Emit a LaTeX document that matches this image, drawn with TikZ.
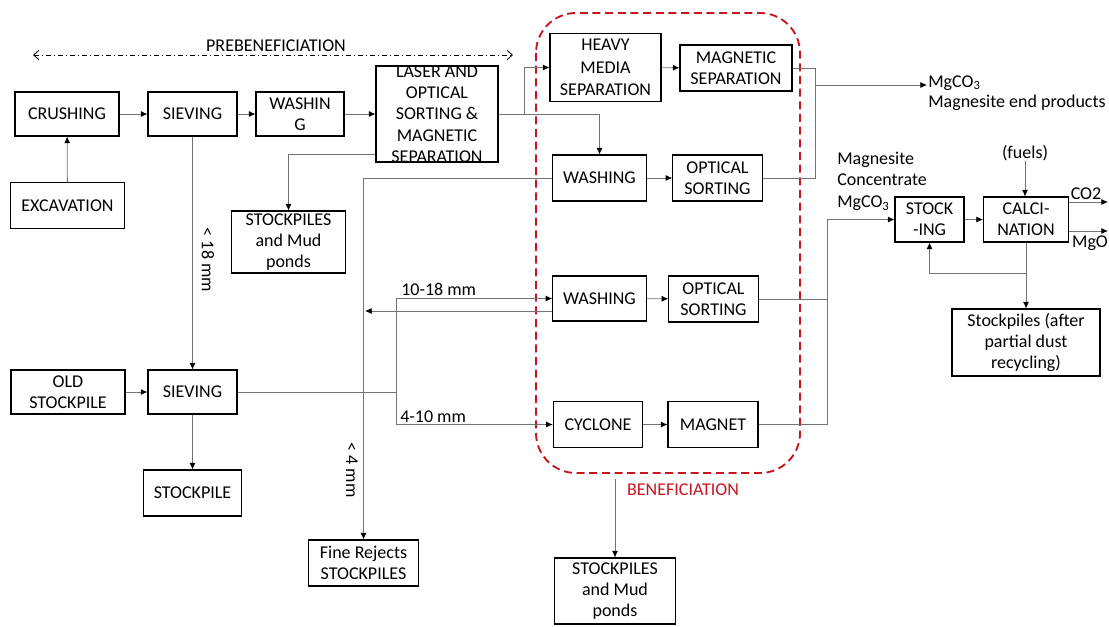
\documentclass[tikz,border=0pt]{standalone}
\usepackage{fontspec}
\setmainfont{Carlito}
\usetikzlibrary{arrows.meta}

\definecolor{linegray}{RGB}{115,115,115}
\definecolor{benred}{RGB}{200,20,30}

\tikzset{
    box/.style = {draw, line width=0.8pt, align=center, inner sep=1pt,
                  minimum width=67pt, minimum height=33pt},
    conn/.style = {draw=linegray, line width=0.6pt},
    arr/.style = {conn, -{Latex[length=5pt,width=4.5pt,color=black]}},
    prearr/.style = {draw=black, line width=0.6pt,
                     dash pattern=on 4pt off 2pt on 1pt off 2pt,
                     {Straight Barb[length=4pt,width=7pt]}-{Straight Barb[length=4pt,width=7pt]}},
    benzone/.style = {draw=benred, line width=1.4pt, dash pattern=on 6pt off 3.5pt,
                      rounded corners=30pt},
    lbl/.style = {inner sep=0pt}
}

\begin{document}
\begin{tikzpicture}[x=0.75pt, y=-0.75pt, font=\fontsize{13.5}{16}\selectfont]
    \useasboundingbox (0,0) rectangle (1109,626);

    % beneficiation zone
    \draw[benzone] (536,13) rectangle (800,473);
    \node[lbl, text=benred] (benlbl) at (683,490) {BENEFICIATION};

    % prebeneficiation
    \coordinate (preL) at (33,55);
    \coordinate (preR) at (513,55);
    \draw[prearr] (preL) -- (preR);
    \node[lbl] (prelbl) at (276,46) {PREBENEFICIATION};

    % prebeneficiation boxes
    \node[box, minimum width=78pt] (crush) at (67,114) {CRUSHING};
    \node[box, minimum width=66.75pt] (sieve) at (192.5,114) {SIEVING};
    \node[box, minimum width=66pt] (washA) at (300,114) {WASHIN\\G};
    \node[box, minimum width=86pt, minimum height=34pt] (exc) at (67.5,205.5) {EXCAVATION};
    \node[box, minimum width=85.5pt, minimum height=46.5pt] (stockmudA) at (288.5,242) {STOCKPILES\\and Mud\\ponds};
    \node[box, minimum width=91.5pt, minimum height=72pt] (laser) at (437,114) {};
    \node[lbl, align=center] at (laser) {LASER AND\\OPTICAL\\SORTING \&\\MAGNETIC\\SEPARATION};

    % beneficiation boxes
    \node[box, minimum width=83.25pt, minimum height=51pt, font=\fontsize{13.5}{17}\selectfont] (hms) at (605.5,67.5) {HEAVY\\MEDIA\\SEPARATION};
    \node[box, minimum width=84pt, minimum height=34.5pt] (magsep) at (736,68) {MAGNETIC\\SEPARATION};
    \node[box, minimum width=70pt, minimum height=34.5pt] (washB) at (599.5,178) {WASHING};
    \node[box, minimum height=34.5pt] (optA) at (717.5,178) {OPTICAL\\SORTING};
    \node[box, minimum width=70pt, minimum height=33.75pt] (washC) at (599.5,298.5) {WASHING};
    \node[box, minimum height=34.5pt] (optB) at (713.5,299) {OPTICAL\\SORTING};
    \node[box, minimum height=34pt] (cyclone) at (598,424.5) {CYCLONE};
    \node[box, minimum width=67.5pt, minimum height=34pt] (magnet) at (713,424.5) {MAGNET};

    % old stockpile line
    \node[box, minimum width=85.5pt] (oldstock) at (68,392) {OLD\\STOCKPILE};
    \node[box, minimum width=66.75pt] (sieveB) at (192.5,392) {SIEVING};
    \node[box, minimum width=74pt, minimum height=34.5pt] (stockpile) at (192.5,493) {STOCKPILE};
    \node[box, minimum width=83pt, minimum height=34.5pt] (finerej) at (363.5,563) {Fine Rejects\\STOCKPILES};
    \node[box, minimum width=91pt, minimum height=49.5pt] (stockmudB) at (615,591) {STOCKPILES\\and Mud\\ponds};

    % calcination
    \node[box, minimum width=51.75pt, minimum height=33.75pt] (stocking) at (929.5,219.5) {STOCK\\-ING};
    \node[box, minimum width=63.75pt, minimum height=33.75pt] (calci) at (1026,219.5) {CALCI-\\NATION};
    \node[box, minimum width=111pt, minimum height=50.25pt] (stockdust) at (1026,342.5) {Stockpiles (after\\partial dust\\recycling)};
    \node[lbl] (fuels) at (1025,153) {(fuels)};

    % text labels
    \node[lbl, anchor=base west] (mgco) at (928,87) {MgCO\textsubscript{3}};
    \node[lbl, anchor=base west] (endprod) at (928,107) {Magnesite end products};
    \node[lbl, anchor=north west, align=left] (conc) at (837,152) {Magnesite\\Concentrate\\MgCO\textsubscript{3}};
    \node[lbl, anchor=base] (co2) at (1086,199) {CO2};
    \node[lbl, anchor=base] (mgo) at (1090,247) {MgO};
    \node[lbl, anchor=base west] (sz1) at (401,295) {10-18 mm};
    \node[lbl, anchor=base west] (sz2) at (400,422) {4-10 mm};
    \node[lbl, rotate=-90] (sz18) at (208,260) {< 18 mm};
    \node[lbl, rotate=-90] (sz4) at (352,470) {< 4 mm};

    % helper points
    \coordinate (split) at (524,114);
    \coordinate (colA) at (815,85);
    \coordinate (mgtip) at (927,85);
    \coordinate (colB) at (827,219.5);
    \coordinate (colC) at (396,392);
    \coordinate (rejin) at (365,311);
    \coordinate (loop) at (1026,273);
    \coordinate (co2tip) at (1108,202);
    \coordinate (mgotip) at (1108,231);
    \coordinate (benout) at (615,479);

    % prebeneficiation flow
    \draw[arr] (exc) -- (crush);
    \draw[arr] (crush) -- (sieve);
    \draw[arr] (sieve) -- (washA);
    \draw[arr] (washA) -- (laser);
    \draw[arr] ([yshift=6pt]laser.south west) -| (stockmudA.north);
    \draw[conn] (laser.east) -- (split);
    \draw[arr] (split) |- (hms.west);
    \draw[arr] (laser.east) -| (washB.north);
    \draw[arr] (sieve) -- (sieveB);
    \draw[arr] (oldstock) -- (sieveB);
    \draw[arr] (sieveB) -- (stockpile);

    % beneficiation flow
    \draw[arr] (hms) -- (magsep);
    \draw[arr] (washB) -- (optA);
    \draw[arr] (washC) -- (optB);
    \draw[arr] (cyclone) -- (magnet);
    \draw[conn] (magsep.east) -| (colA);
    \draw[conn] (optA.east) -| (colA);
    \draw[arr] (colA) -- (mgtip);
    \draw[arr] (washB.west) -| (finerej.north);
    \draw[conn] (sieveB.east) -- (colC);
    \draw[arr] (colC) |- (washC.west);
    \draw[arr] (colC) |- (cyclone.west);
    \draw[arr] (washC.west |- rejin) -- (rejin);
    \draw[conn] (optB.east) -| (colB);
    \draw[conn] (magnet.east) -| (colB);
    \draw[arr] (colB) -- (stocking.west);
    \draw[arr] (benout) -- (stockmudB.north);

    % calcination flow
    \draw[arr] (stocking) -- (calci);
    \draw[arr] (fuels.south) -- (fuels.south |- calci.north);
    \draw[arr] (calci.east |- co2tip) -- (co2tip);
    \draw[arr] (calci.east |- mgotip) -- (mgotip);
    \draw[conn] (calci.south) -- (loop);
    \draw[arr] (loop) -| (stocking.south);
    \draw[arr] (loop) -- (stockdust.north);
\end{tikzpicture}
\end{document}
